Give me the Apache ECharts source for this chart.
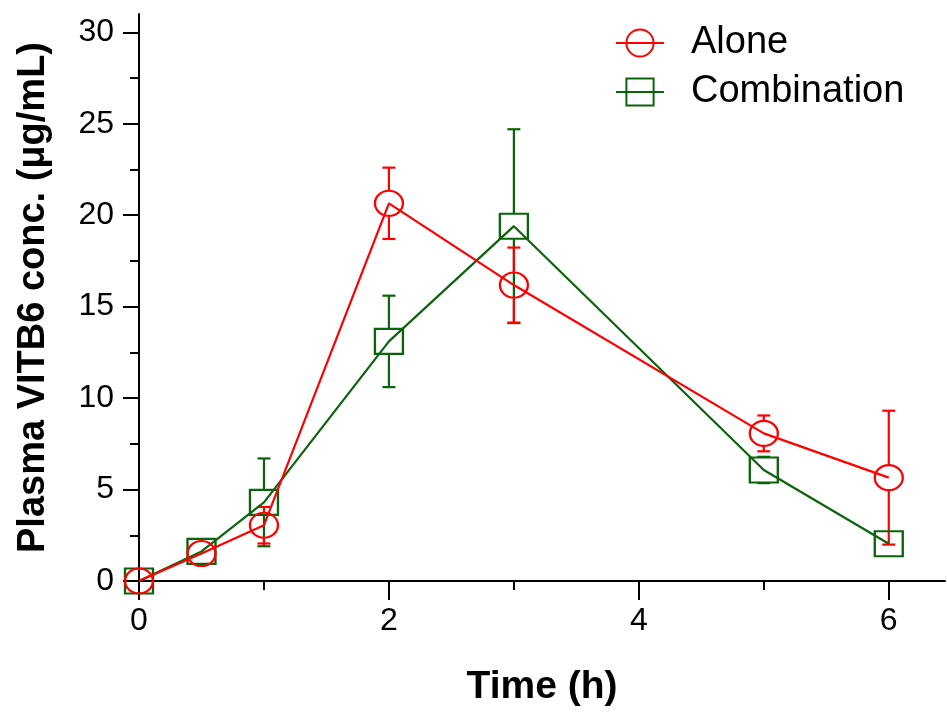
<!DOCTYPE html>
<html>
<head>
<meta charset="utf-8">
<script src="https://cdn.jsdelivr.net/npm/echarts@6/dist/echarts.min.js"></script>
<style>html,body{margin:0;padding:0;background:#fff}#c{width:947px;height:714px}</style>
</head>
<body>
<div id="c"></div>
<script>
// Data
const times = [0, 0.5, 1, 2, 3, 5, 6];
const aloneMean = [0, 1.5, 3.05, 20.65, 16.18, 8.07, 5.65];
const aloneSD   = [0, 0, 1.0, 1.95, 2.05, 0.98, 3.66];
const comboMean = [0, 1.62, 4.3, 13.1, 19.4, 6.07, 2.04];
const comboSD   = [0, 0, 2.4, 2.5, 5.3, 0.72, 0];
const xMajorTicks = [0, 2, 4, 6];
const xMinorTicks = [1, 3, 5];
const yMajorTicks = [0, 5, 10, 15, 20, 25, 30];
const yMinorTicks = [2.5, 7.5, 12.5, 17.5, 22.5, 27.5];
const seriesNames = ['Alone', 'Combination'];

const RED = '#ff0000', GREEN = '#0b640b';
const FONT = 'Liberation Sans, Arial, sans-serif';
const SYM = [28, 25];

function pairs(xs, ys) { return xs.map((x, i) => [x, ys[i]]); }
function errData(xs, m, s) { return xs.map((x, i) => [x, m[i], s[i]]); }

function errRender(color) {
  return function (params, api) {
    const x = api.value(0), m = api.value(1), s = api.value(2);
    if (!s) return null;
    const c = api.coord([x, m]);
    const t = api.coord([x, m + s]);
    const b = api.coord([x, m - s]);
    const half = SYM[1] / 2, cap = 6.5;
    const st = { stroke: color, lineWidth: 2.2 };
    const kids = [];
    if (t[1] < c[1] - half) kids.push({ type: 'line', shape: { x1: c[0], y1: c[1] - half, x2: t[0], y2: t[1] }, style: st });
    if (b[1] > c[1] + half) kids.push({ type: 'line', shape: { x1: c[0], y1: c[1] + half, x2: b[0], y2: b[1] }, style: st });
    kids.push({ type: 'line', shape: { x1: t[0] - cap, y1: t[1], x2: t[0] + cap, y2: t[1] }, style: st });
    kids.push({ type: 'line', shape: { x1: b[0] - cap, y1: b[1], x2: b[0] + cap, y2: b[1] }, style: st });
    return { type: 'group', children: kids };
  };
}

const chart = echarts.init(document.getElementById('c'));
const axisLine = { show: true, lineStyle: { color: '#000', width: 2 } };
chart.setOption({
  animation: false,
  backgroundColor: '#fff',
  grid: { left: 139, right: 2, top: 14, bottom: 133, containLabel: false },
  legend: {
    orient: 'vertical', left: 610, top: 19, itemWidth: 48, itemHeight: 34, itemGap: 11,
    data: seriesNames,
    textStyle: { fontFamily: FONT, fontSize: 38, color: '#000', padding: [0, 0, 0, 22] }
  },
  xAxis: [{
    type: 'value', min: 0, max: 6.45,
    name: 'Time (h)', nameLocation: 'middle', nameGap: 87,
    nameTextStyle: { fontFamily: FONT, fontSize: 39, fontWeight: 'bold', color: '#000' },
    axisLine: axisLine,
    axisTick: { show: true, length: 19, customValues: xMajorTicks, lineStyle: { color: '#000', width: 2 } },
    axisLabel: { customValues: xMajorTicks, fontFamily: FONT, fontSize: 32, color: '#000', margin: 24 },
    splitLine: { show: false }
  }, {
    type: 'value', min: 0, max: 6.45, position: 'bottom',
    axisLine: { show: false },
    axisTick: { show: true, length: 9, customValues: xMinorTicks, lineStyle: { color: '#000', width: 2 } },
    axisLabel: { show: false }, splitLine: { show: false }
  }],
  yAxis: [{
    type: 'value', min: 0, max: 31,
    name: 'Plasma VITB6 conc. (μg/mL)', nameLocation: 'middle', nameGap: 86,
    nameTextStyle: { fontFamily: FONT, fontSize: 38, fontWeight: 'bold', color: '#000' },
    axisLine: axisLine,
    axisTick: { show: true, length: 16, customValues: yMajorTicks, lineStyle: { color: '#000', width: 2 } },
    axisLabel: { customValues: yMajorTicks, fontFamily: FONT, fontSize: 32, color: '#000', margin: 25 },
    splitLine: { show: false }
  }, {
    type: 'value', min: 0, max: 31, position: 'left',
    axisLine: { show: false },
    axisTick: { show: true, length: 9, customValues: yMinorTicks, lineStyle: { color: '#000', width: 2 } },
    axisLabel: { show: false }, splitLine: { show: false }
  }],
  series: [
    {
      name: seriesNames[1], type: 'line', data: pairs(times, comboMean),
      symbol: 'rect', symbolSize: SYM, showAllSymbol: true,
      lineStyle: { color: GREEN, width: 2.2 },
      itemStyle: { color: 'rgba(255,255,255,0)', borderColor: GREEN, borderWidth: 2.2 },
      z: 3
    },
    {
      name: seriesNames[0], type: 'line', data: pairs(times, aloneMean),
      symbol: 'circle', symbolSize: SYM, showAllSymbol: true,
      lineStyle: { color: RED, width: 2.2 },
      itemStyle: { color: 'rgba(255,255,255,0)', borderColor: RED, borderWidth: 2.2 },
      z: 4
    },
    {
      type: 'custom', name: 'errC', data: errData(times, comboMean, comboSD),
      renderItem: errRender(GREEN), encode: { x: 0, y: 1 }, z: 2, silent: true
    },
    {
      type: 'custom', name: 'errA', data: errData(times, aloneMean, aloneSD),
      renderItem: errRender(RED), encode: { x: 0, y: 1 }, z: 2, silent: true
    }
  ]
});
</script>
</body>
</html>
